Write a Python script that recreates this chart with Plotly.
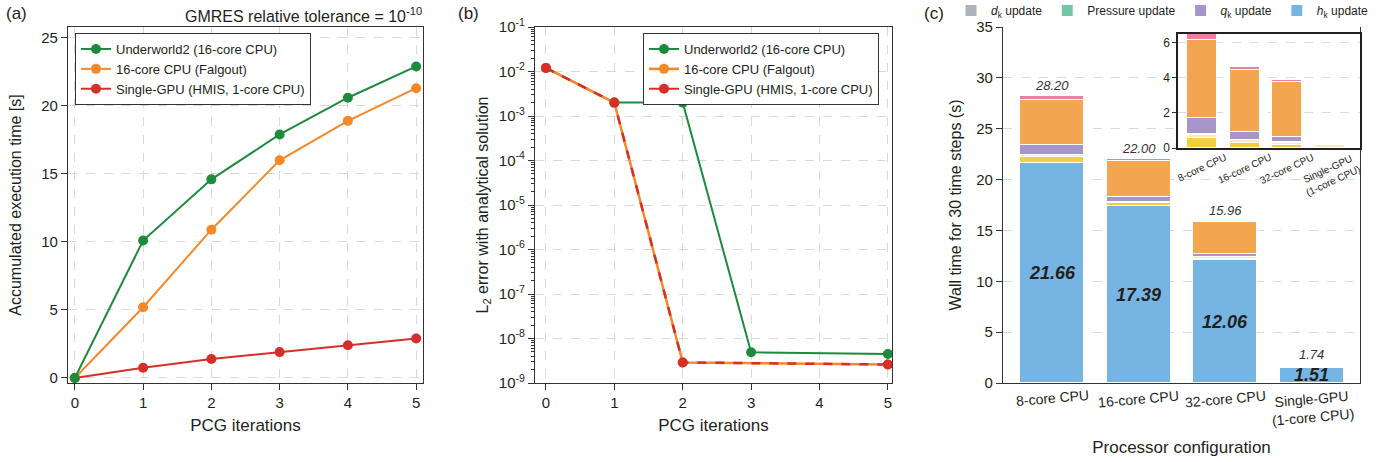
import plotly.graph_objects as go

# ---------------- data ----------------
iters = [0, 1, 2, 3, 4, 5]
time_uw2 = [0, 10.1, 14.6, 17.9, 20.6, 22.9]
time_falgout = [0, 5.2, 10.9, 16.0, 18.9, 21.3]
time_gpu = [0, 0.75, 1.4, 1.9, 2.4, 2.9]

err_uw2_x = [0, 1, 2, 3, 5]
err_uw2 = [1.2e-2, 2.0e-3, 2.0e-3, 4.9e-9, 4.5e-9]
err_cpu_x = [0, 1, 2, 5]
err_falgout = [1.2e-2, 2.0e-3, 2.9e-9, 2.6e-9]
err_gpu = [1.2e-2, 2.0e-3, 2.9e-9, 2.6e-9]
err_exponents = [-9, -8, -7, -6, -5, -4, -3, -2, -1]

configs = ["8-core CPU", "16-core CPU", "32-core CPU", "Single-GPU<br>(1-core CPU)"]
hk_upd = [21.66, 17.39, 12.06, 1.51]
seg_yellow = [0.55, 0.30, 0.15, 0.02]
seg_cream = [0.17, 0.13, 0.15, 0.15]
seg_red = [0.06, 0.02, 0.02, 0.01]
qk_upd = [0.95, 0.45, 0.33, 0.02]
seg_orange = [4.45, 3.55, 3.10, 0.02]
seg_pink = [0.36, 0.16, 0.15, 0.01]
dk_upd = [0, 0, 0, 0]
pressure_upd = [0, 0, 0, 0]
totals = [28.20, 22.00, 15.96, 1.74]

# ---------------- style ----------------
FONT = "Arial, Liberation Sans, Helvetica, sans-serif"
DARK = "#231f20"
GREEN, ORANGE, RED = "#1e8a3e", "#f5892a", "#d62f2a"
GRID = "#d9d9d9"
W, H = 1381, 462

def px_x(p):
    return p / W

def px_y(p):
    return 1 - p / H

YDOM = [px_y(383), px_y(27)]

fig = go.Figure()

# ---------- (a) ----------
for name, ys, col, rank in [
    ("Single-GPU (HMIS, 1-core CPU)", time_gpu, RED, 3),
    ("16-core CPU (Falgout)", time_falgout, ORANGE, 2),
    ("Underworld2 (16-core CPU)", time_uw2, GREEN, 1),
]:
    fig.add_trace(go.Scatter(x=iters, y=ys, mode="lines+markers", name=name,
                             line=dict(color=col, width=2), marker=dict(color=col, size=10),
                             xaxis="x", yaxis="y", legend="legend", legendrank=rank))

# ---------- (b) ----------
fig.add_trace(go.Scatter(x=err_uw2_x, y=err_uw2, mode="lines+markers", name="Underworld2 (16-core CPU)",
                         line=dict(color=GREEN, width=2), marker=dict(color=GREEN, size=10),
                         xaxis="x2", yaxis="y2", legend="legend2", legendrank=1))
fig.add_trace(go.Scatter(x=err_cpu_x, y=err_falgout, mode="lines+markers", name="16-core CPU (Falgout)",
                         line=dict(color=ORANGE, width=2.5), marker=dict(color=ORANGE, size=10),
                         xaxis="x2", yaxis="y2", legend="legend2", legendrank=2))
fig.add_trace(go.Scatter(x=err_cpu_x, y=err_gpu, mode="lines+markers", name="Single-GPU (HMIS, 1-core CPU)",
                         line=dict(color=RED, width=2.5, dash="dash"), marker=dict(color=RED, size=10),
                         xaxis="x2", yaxis="y2", showlegend=False))
fig.add_trace(go.Scatter(x=[None], y=[None], mode="lines+markers", name="Single-GPU (HMIS, 1-core CPU)",
                         line=dict(color=RED, width=2), marker=dict(color=RED, size=10),
                         xaxis="x2", yaxis="y2", legend="legend2", legendrank=3))

# ---------- (c) main + inset ----------
segments = [
    ("<i>h</i><sub>k</sub> update", hk_upd, "#76b5e3", True, 4),
    ("seg_yellow", seg_yellow, "#f4cd42", False, 10),
    ("seg_cream", seg_cream, "#fbe9b7", False, 10),
    ("seg_red", seg_red, "#f08a8a", False, 10),
    ("<i>q</i><sub>k</sub> update", qk_upd, "#a595c9", True, 3),
    ("seg_orange", seg_orange, "#f4a54f", False, 10),
    ("seg_pink", seg_pink, "#ea7fa3", False, 10),
    ("<i>d</i><sub>k</sub> update", dk_upd, "#adb3b8", True, 1),
    ("Pressure update", pressure_upd, "#73c6a4", True, 2),
]
for name, vals, col, show, rank in segments:
    fig.add_trace(go.Bar(x=configs, y=vals, name=name, marker=dict(color=col, line=dict(color="white", width=1)),
                         width=0.74, xaxis="x3", yaxis="y3", showlegend=show, legend="legend3",
                         legendrank=rank))
for name, vals, col, show, rank in segments[1:]:
    fig.add_trace(go.Bar(x=configs, y=vals, name=name, marker=dict(color=col, line=dict(color="white", width=1)),
                         width=0.70, xaxis="x4", yaxis="y4", showlegend=False))

annotations = []
for c, t in zip(configs, totals):
    annotations.append(dict(x=c, y=t, xref="x3", yref="y3", text=f"<i>{t:.2f}</i>", showarrow=False,
                            yanchor="bottom", yshift=1, font=dict(size=13, color="#333333", family=FONT)))
for c, v in zip(configs, hk_upd):
    annotations.append(dict(x=c, y=v / 2, xref="x3", yref="y3", text=f"<b><i>{v:.2f}</i></b>", showarrow=False,
                            yanchor="middle", font=dict(size=18, color=DARK, family=FONT)))
# category labels (slightly rotated, centred on bars)
for c in configs:
    annotations.append(dict(x=c, y=0, xref="x3", yref="y3 domain", text=c, showarrow=False,
                            yanchor="top", yshift=-2, textangle=-5,
                            font=dict(size=14, color=DARK, family=FONT)))
    annotations.append(dict(x=c, y=0, xref="x4", yref="y4 domain", text=c, showarrow=False,
                            yanchor="top", yshift=-1, textangle=-25,
                            font=dict(size=10, color=DARK, family=FONT)))

# panel labels and title
annotations += [
    dict(x=px_x(4), y=px_y(14), xref="paper", yref="paper", text="(a)", showarrow=False,
         xanchor="left", yanchor="middle", font=dict(size=17, color=DARK, family=FONT)),
    dict(x=px_x(456), y=px_y(14), xref="paper", yref="paper", text="(b)", showarrow=False,
         xanchor="left", yanchor="middle", font=dict(size=17, color=DARK, family=FONT)),
    dict(x=px_x(922), y=px_y(14), xref="paper", yref="paper", text="(c)", showarrow=False,
         xanchor="left", yanchor="middle", font=dict(size=17, color=DARK, family=FONT)),
    dict(x=px_x(424), y=px_y(15), xref="paper", yref="paper", text="GMRES relative tolerance = 10<sup>-10</sup>",
         showarrow=False, xanchor="right", yanchor="middle", font=dict(size=16, color=DARK, family=FONT)),
]

axis_common = dict(showline=True, linecolor="#333333", linewidth=1.2, ticks="outside", ticklen=6,
                   tickcolor="#333333", tickfont=dict(size=15, color=DARK, family=FONT),
                   automargin=False, zeroline=False)

log_major = [10.0 ** e for e in err_exponents]
log_text = [f"10<sup>{e}</sup>" for e in err_exponents]
log_minor = [m * 10.0 ** e for e in err_exponents[:-1] for m in range(2, 10)]

fig.update_layout(
    width=W, height=H, margin=dict(l=0, r=0, t=0, b=0, autoexpand=False),
    paper_bgcolor="white", plot_bgcolor="white",
    font=dict(family=FONT, color=DARK),
    barmode="stack", bargap=0,
    annotations=annotations,
    xaxis=dict(domain=[px_x(68), px_x(423)], range=[-0.1, 5.1], tickvals=iters, mirror=True,
               showgrid=True, gridcolor=GRID, griddash="dash", anchor="y",
               title=dict(text="PCG iterations", font=dict(size=17, color=DARK), standoff=9), **axis_common),
    yaxis=dict(domain=YDOM, range=[-0.37, 25.8], tickvals=[0, 5, 10, 15, 20, 25], mirror=True,
               showgrid=True, gridcolor=GRID, griddash="dash", anchor="x",
               title=dict(text="Accumulated execution time [s]", font=dict(size=16, color=DARK), standoff=15),
               **axis_common),
    xaxis2=dict(domain=[px_x(535), px_x(892)], range=[-0.16, 5.06], tickvals=iters, mirror=True,
                showgrid=True, gridcolor=GRID, griddash="dash", anchor="y2",
                title=dict(text="PCG iterations", font=dict(size=17, color=DARK), standoff=9), **axis_common),
    yaxis2=dict(domain=YDOM, type="log", range=[-9, -1], tickmode="array", tickvals=log_major,
                ticktext=log_text, mirror=True,
                showgrid=True, gridcolor=GRID, griddash="dash", anchor="x2",
                minor=dict(tickmode="array", tickvals=log_minor, ticks="outside", ticklen=3,
                           tickcolor="#333333", showgrid=False),
                title=dict(text="L<sub>2</sub> error with analytical solution", font=dict(size=16, color=DARK),
                           standoff=6),
                **axis_common),
    xaxis3=dict(domain=[px_x(1003), px_x(1360)], range=[-0.567, 3.56], type="category", anchor="y3",
                showgrid=False, showticklabels=False, ticks="",
                title=dict(text="Processor configuration", font=dict(size=17, color=DARK), standoff=57),
                **{k: v for k, v in axis_common.items() if k != "ticks"}),
    yaxis3=dict(domain=YDOM, range=[0, 35], tickvals=[0, 5, 10, 15, 20, 25, 30, 35], mirror=True,
                showgrid=True, gridcolor=GRID, griddash="dash", anchor="x3",
                title=dict(text="Wall time for 30 time steps (s)", font=dict(size=16, color=DARK), standoff=10),
                **axis_common),
    xaxis4=dict(domain=[px_x(1178), px_x(1360)], range=[-0.5625, 3.70], type="category", anchor="y4",
                showline=True, linecolor="#231f20", linewidth=1.5, mirror=True, ticks="", showgrid=False,
                showticklabels=False, automargin=False),
    yaxis4=dict(domain=[px_y(148), px_y(34)], range=[0, 6.5], tickvals=[0, 2, 4, 6], anchor="x4",
                showline=True, linecolor="#231f20", linewidth=1.5, mirror=True, ticks="outside", ticklen=4,
                tickcolor="#333333", showgrid=True, gridcolor="#dddddd", griddash="dash", zeroline=False,
                tickfont=dict(size=12, color=DARK, family=FONT), automargin=False),
    shapes=[dict(type="rect", xref="x4 domain", yref="y4 domain", x0=0, x1=1, y0=0, y1=1,
                 fillcolor="white", line=dict(width=0), layer="below")],
    legend=dict(x=px_x(75), y=px_y(33), xanchor="left", yanchor="top", bgcolor="white",
                bordercolor="#333333", borderwidth=1, font=dict(size=13, color=DARK, family=FONT),
                traceorder="normal", tracegroupgap=0),
    legend2=dict(x=px_x(643), y=px_y(33), xanchor="left", yanchor="top", bgcolor="white",
                 bordercolor="#333333", borderwidth=1, font=dict(size=13, color=DARK, family=FONT),
                 traceorder="normal"),
    legend3=dict(x=px_x(1374), y=px_y(-4), xanchor="right", yanchor="top", orientation="h",
                 bgcolor="rgba(0,0,0,0)", font=dict(size=12, color=DARK, family=FONT), traceorder="normal",
                 itemwidth=30),
)

fig.write_html("out.html", config={"displayModeBar": False},
               post_script="document.body.style.margin='0px';")
